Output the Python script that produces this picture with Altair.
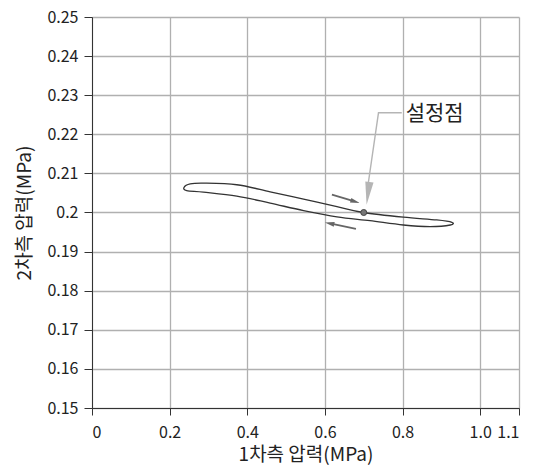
import altair as alt
import pandas as pd

# hysteresis loop (closed path, smooth)
loop_x = [0.237, 0.253, 0.287, 0.373, 0.459, 0.545, 0.631, 0.699, 0.802, 0.888, 0.927,
          0.923, 0.871, 0.802, 0.716, 0.631, 0.545, 0.459, 0.373, 0.287, 0.244]
loop_y = [0.2064, 0.2073, 0.2075, 0.2071, 0.2053, 0.2034, 0.2015, 0.2000, 0.1988, 0.1981, 0.1975,
          0.1968, 0.1964, 0.1968, 0.1979, 0.1989, 0.2005, 0.2024, 0.2042, 0.2052, 0.2056]

set_x = [0.70]
set_y = [0.200]
set_label = ["설정점"]

x_ticks = [0, 0.2, 0.4, 0.6, 0.8, 1.0, 1.1]
y_ticks = [0.15, 0.16, 0.17, 0.18, 0.19, 0.20, 0.21, 0.22, 0.23, 0.24, 0.25]

# direction arrows (shaft start/end)
arrow_id = ["up", "up", "low", "low"]
arrow_x = [0.618, 0.672, 0.680, 0.622]
arrow_y = [0.2046, 0.2030, 0.1958, 0.1970]
head_x = [0.678, 0.612]
head_y = [0.2028, 0.1972]
head_angle = [287, 102]

# callout leader
lead_x = [0.798, 0.738, 0.711]
lead_y = [0.2255, 0.2255, 0.2070]
lead_head_x = [0.711]
lead_head_y = [0.2049]

FONT = "Noto Sans CJK KR"

xs = alt.Scale(domain=[0, 1.1], nice=False, zero=False)
ys = alt.Scale(domain=[0.15, 0.25], nice=False, zero=False)

X0 = alt.X("x:Q", scale=xs)
Y0 = alt.Y("y:Q", scale=ys)

loop = pd.DataFrame({"x": loop_x, "y": loop_y, "o": list(range(len(loop_x)))})
base = alt.Chart(loop).mark_line(color="#333333", strokeWidth=1.3,
                                 interpolate="cardinal-closed").encode(
    x=alt.X("x:Q", scale=xs,
            axis=alt.Axis(values=x_ticks, tickCount=len(x_ticks), title="1차측 압력(MPa)",
                          labelExpr="datum.value == 0 ? '0' : format(datum.value, '.1f')",
                          tickSize=7, labelPadding=9, titlePadding=5,
                          titleFontWeight=400)),
    y=alt.Y("y:Q", scale=ys,
            axis=alt.Axis(values=y_ticks, tickCount=len(y_ticks), title="2차측 압력(MPa)",
                          labelExpr="format(datum.value, '~g')",
                          tickSize=8, labelPadding=6, titlePadding=12,
                          titleFontWeight=400)),
    order="o:Q",
)

arr = pd.DataFrame({"x": arrow_x, "y": arrow_y, "id": arrow_id})
shafts = alt.Chart(arr).mark_line(color="#666666", strokeWidth=1.8).encode(
    x=X0, y=Y0, detail="id:N")

hd = pd.DataFrame({"x": head_x, "y": head_y, "a": head_angle})
heads = alt.Chart(hd).mark_point(
    shape="M-0.5,-1L0.5,-1L0,1Z", filled=True, color="#666666", opacity=1, size=90
).encode(x=X0, y=Y0, angle=alt.Angle("a:Q", scale=None))

ld = pd.DataFrame({"x": lead_x, "y": lead_y, "o": [0, 1, 2]})
leader = alt.Chart(ld).mark_line(color="#b5b5b5", strokeWidth=1.4).encode(
    x=X0, y=Y0, order="o:Q")

lh = pd.DataFrame({"x": lead_head_x, "y": lead_head_y})
lead_head = alt.Chart(lh).mark_point(
    shape="M-0.36,-1L0.36,-1L0,1Z", filled=True, color="#b5b5b5", opacity=1,
    size=529, angle=7
).encode(x=X0, y=Y0)

sp = pd.DataFrame({"x": set_x, "y": set_y, "t": set_label})
point = alt.Chart(sp).mark_point(
    shape="circle", filled=True, color="#777777", stroke="#444444", strokeWidth=1,
    opacity=1, size=36
).encode(x=X0, y=Y0)

label = alt.Chart(sp).mark_text(
    font=FONT, fontSize=21, color="#222222", align="left", baseline="middle",
    dx=42
).encode(x=X0, y=alt.value(97), text="t:N")

chart = alt.layer(base, leader, lead_head, shafts, heads, point, label).properties(
    width=427, height=391,
    autosize=alt.AutoSizeParams(type="none"),
    padding={"left": 84, "top": 9, "right": 8, "bottom": 60},
).configure_view(stroke=None).configure_axis(
    grid=True, gridColor="#b0b0b0", gridWidth=1.3,
    domainColor="#333333", tickColor="#333333",
    labelFontSize=16, titleFontSize=19, labelColor="#222222", titleColor="#222222",
    labelOverlap=False, labelFont=FONT, titleFont=FONT, titleFontWeight=400,
)

chart.save("out.html", embed_options={"renderer": "svg", "actions": False})
